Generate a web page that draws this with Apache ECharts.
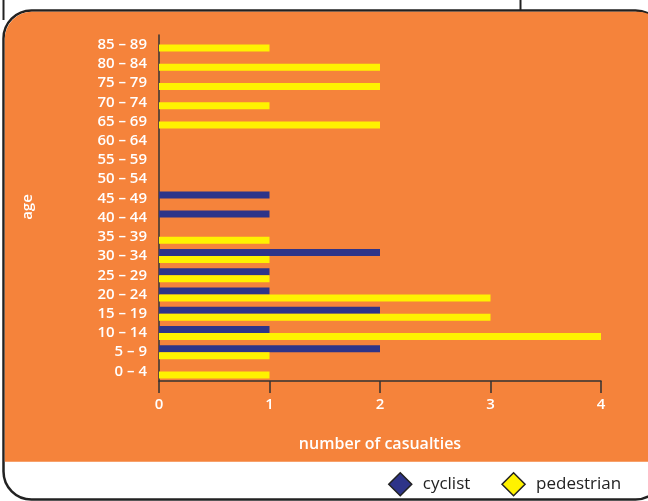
<!DOCTYPE html>
<html>
<head>
<meta charset="utf-8">
<script src="https://cdn.jsdelivr.net/npm/echarts@6/dist/echarts.min.js"></script>
<style>
  html, body { margin: 0; padding: 0; background: #fff; }
  #chart { width: 648px; height: 501px; }
</style>
</head>
<body>
<div id="chart"></div>
<script>
var ages = ['0 – 4', '5 – 9', '10 – 14', '15 – 19', '20 – 24', '25 – 29', '30 – 34', '35 – 39', '40 – 44',
    '45 – 49', '50 – 54', '55 – 59', '60 – 64', '65 – 69', '70 – 74', '75 – 79', '80 – 84', '85 – 89'];
var cyclist = [0, 2, 1, 2, 1, 1, 2, 0, 1, 1, 0, 0, 0, 0, 0, 0, 0, 0];
var pedestrian = [1, 1, 4, 3, 3, 1, 1, 1, 0, 0, 0, 0, 0, 2, 1, 2, 2, 1];
var xTicks = [0, 1, 2, 3, 4];

var orange = '#F5833B';
var font = '"Open Sans", sans-serif';

var chart;

var option = {
    animation: false,
    textStyle: { fontFamily: font },
    graphic: [
        // title box edges peeking in at the top
        { type: 'line', shape: { x1: 3.5, y1: 0, x2: 3.5, y2: 20 }, style: { stroke: '#222', lineWidth: 2 }, z: -5 },
        { type: 'line', shape: { x1: 520.5, y1: 0, x2: 520.5, y2: 12 }, style: { stroke: '#222', lineWidth: 2 }, z: -5 },
        // panel
        {
            type: 'rect', shape: { x: 3.5, y: 10.5, width: 660, height: 489, r: 28 },
            style: { fill: '#fff', stroke: '#222', lineWidth: 2.5 }, z: -4
        },
        {
            type: 'rect', shape: { x: 4.8, y: 11.8, width: 660, height: 450, r: [27, 27, 0, 0] },
            style: { fill: orange }, z: -3
        },
        {
            type: 'text', x: 28, y: 207, rotation: Math.PI / 2,
            style: { text: 'age', fill: '#fff', font: '600 15px ' + font, textAlign: 'center', textVerticalAlign: 'middle' }
        }
    ],
    legend: {
        data: ['cyclist', 'pedestrian'],
        left: 383, top: 467,
        icon: 'diamond',
        itemWidth: 23, itemHeight: 23,
        itemGap: 31,
        itemStyle: { borderColor: '#222', borderWidth: 1.5 },
        textStyle: { color: '#222', fontSize: 17, fontFamily: font, padding: [0, 0, 0, 6] }
    },
    grid: { left: 159, right: 47, top: 35, bottom: 120 },
    xAxis: {
        type: 'value', min: 0, max: 4, interval: 1,
        name: 'number of casualties', nameLocation: 'middle', nameGap: 55,
        nameTextStyle: { color: '#fff', fontSize: 16, fontWeight: 600 },
        axisLine: { show: true, lineStyle: { color: '#333', width: 1.5 } },
        axisTick: { show: true, length: 12, lineStyle: { color: '#333', width: 1.5 } },
        axisLabel: { color: '#fff', fontSize: 15, margin: 16, fontWeight: 600,
            formatter: function (v) { return xTicks.indexOf(v) >= 0 ? String(v) : ''; } },
        splitLine: { show: false }
    },
    yAxis: {
        type: 'category', data: ages,
        axisLine: { lineStyle: { color: '#333', width: 1.5 } },
        axisTick: { interval: 0, length: 11, lineStyle: { color: '#5a3a22', width: 1.5 } },
        axisLabel: { interval: 0, color: '#fff', fontSize: 15, fontWeight: 600, margin: 12 }
    },
    series: [
        {
            name: 'cyclist', type: 'bar', data: cyclist,
            barWidth: 7, barGap: '0%',
            itemStyle: { color: '#2E3489' }
        },
        {
            name: 'pedestrian', type: 'bar', data: pedestrian,
            barWidth: 7, barGap: '0%',
            itemStyle: { color: '#FFF200' }
        }
    ]
};

window.onload = function () {
    chart = echarts.init(document.getElementById('chart'));
    chart.setOption(option);
};
</script>
</body>
</html>
